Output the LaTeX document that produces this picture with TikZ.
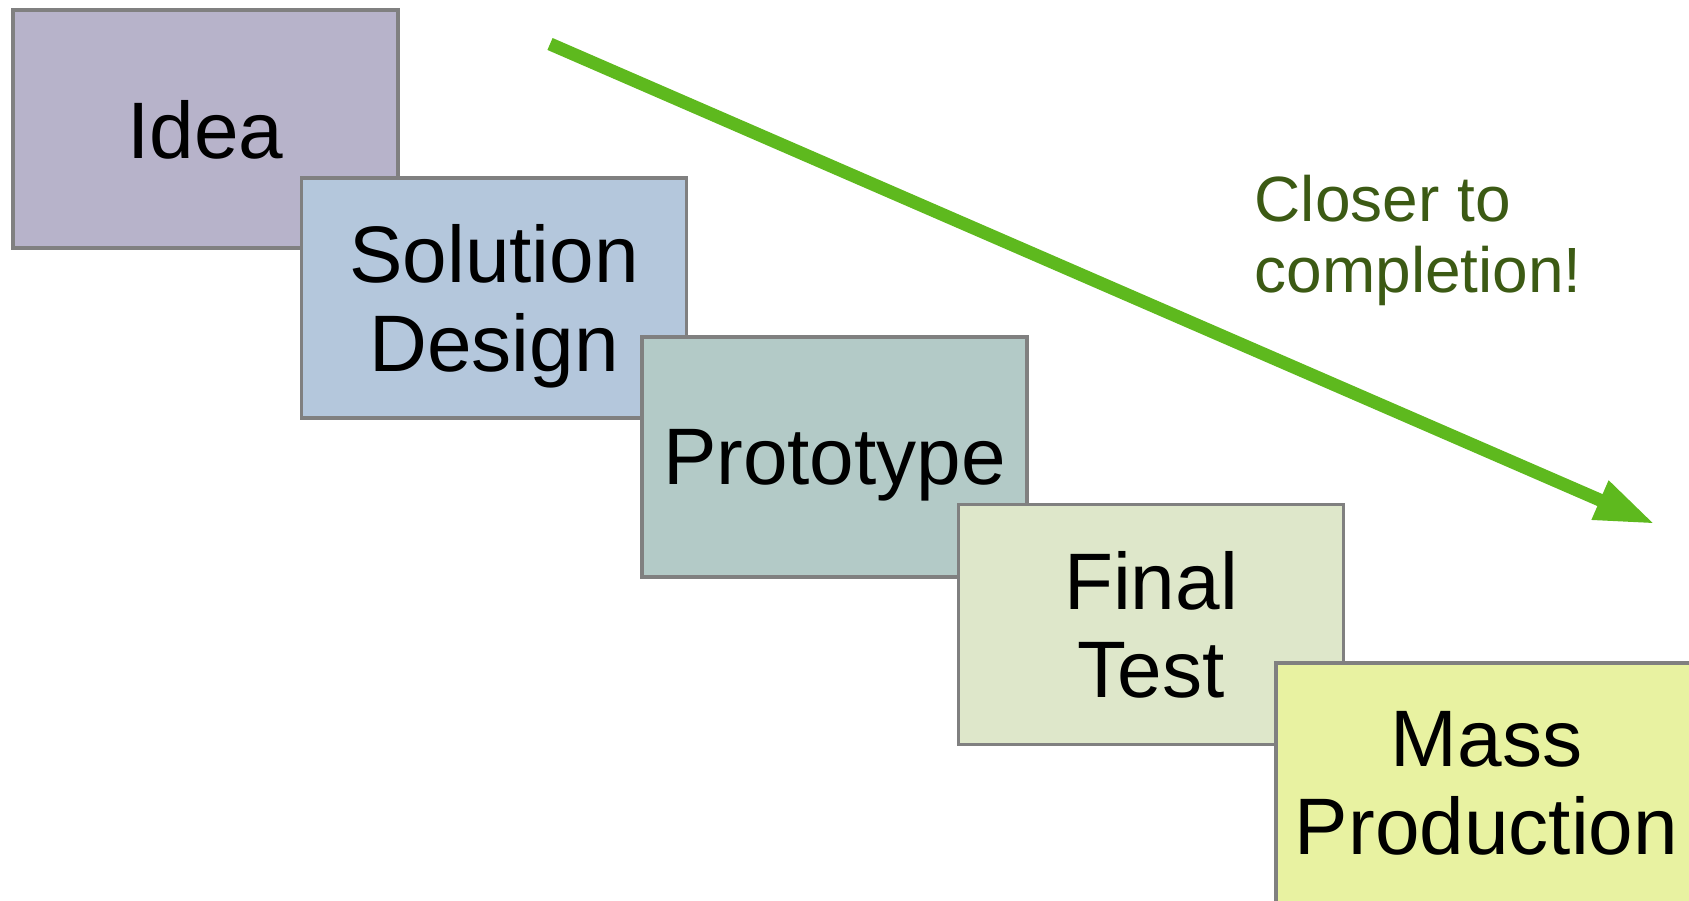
\documentclass[tikz,border=0pt]{standalone}
\usepackage{fontspec}
\setmainfont{Liberation Sans}
\usetikzlibrary{arrows.meta}
\definecolor{ideaC}{HTML}{B7B3CA}
\definecolor{solC}{HTML}{B4C7DC}
\definecolor{protoC}{HTML}{B3CAC7}
\definecolor{testC}{HTML}{DEE7CA}
\definecolor{massC}{HTML}{E8F2A1}
\definecolor{frameC}{HTML}{808080}
\definecolor{arrowC}{HTML}{5EB91E}
\definecolor{noteC}{HTML}{3C5A14}
\begin{document}
\begin{tikzpicture}[stage/.style={draw=frameC, line width=1.1pt, rectangle, minimum width=3.85cm, minimum height=2.4cm, inner sep=0pt, align=center, text depth=0pt, font=\fontsize{22.8}{25.2}\selectfont}]
\clip (0,0) rectangle (16.89,9.01);
\node[stage, fill=ideaC, minimum height=2.38cm] (S1) at (2.055,7.72) {Idea};
\node[stage, fill=solC] (S2) at (4.94,6.03) {Solution\\Design};
\node[stage, fill=protoC] (S3) at (8.345,4.44) {Prototype};
\node[stage, fill=testC] (S4) at (11.51,2.765) {Final\\Test};
\node[stage, fill=massC, minimum width=4.21cm] (S5) at (14.865,1.18) {Mass\\Production};
\coordinate (A0) at (5.50,8.57);
\coordinate (A1) at (16.55,3.77);
\draw[arrowC, line width=3.7pt, -{Triangle[length=6mm, width=3.9mm]}] (A0) -- (A1);
\node[anchor=north west, inner sep=0pt, align=left, text=noteC, font=\fontsize{18.2}{20.4}\selectfont] (N1) at (12.54,7.27) {Closer to\\completion!};
\end{tikzpicture}
\end{document}
